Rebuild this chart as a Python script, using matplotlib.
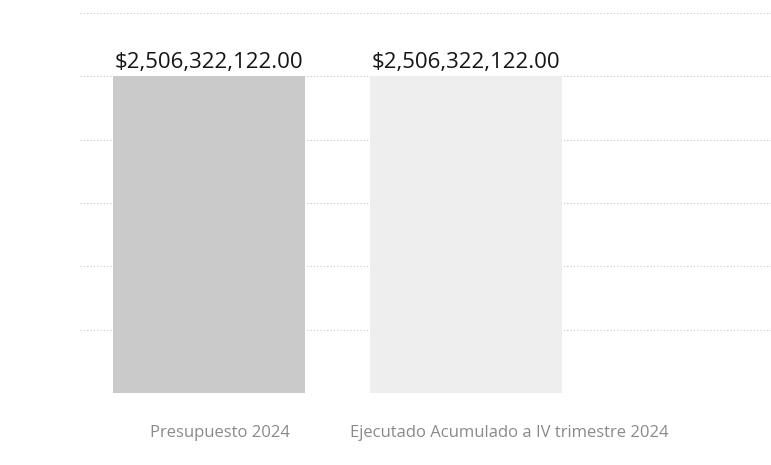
import matplotlib
matplotlib.use("Agg")
import matplotlib.pyplot as plt
import numpy as np

categories = ["Presupuesto 2024", "Ejecutado Acumulado a IV trimestre 2024"]
values = [2506322122.00, 2506322122.00]
value_labels = ["$2,506,322,122.00", "$2,506,322,122.00"]
colors = ["#cacaca", "#eeeeee"]

W, H = 771, 465
fig = plt.figure(figsize=(W/100, H/100), dpi=100)
ax_left, ax_right = 80, 771
ax_top, ax_bottom = 13, 393
ax = fig.add_axes([ax_left/W, 1 - ax_bottom/H, (ax_right-ax_left)/W, (ax_bottom-ax_top)/H])

spacing = 257.0
x = np.arange(len(categories))
bars = ax.bar(x, values, width=0.75, color=colors, zorder=2)
x0 = -(209 - ax_left)/spacing
ax.set_xlim(x0, x0 + (ax_right-ax_left)/spacing)
ax.set_ylim(0, 3.0e9)
ax.set_yticks(np.arange(0, 3.0e9 + 1, 5e8))
ax.yaxis.grid(True, color="#c4c4c4", linestyle=(0, (1, 2)), linewidth=0.8, zorder=0)
ax.tick_params(left=False, bottom=False, labelleft=False, labelbottom=False)
for s in ax.spines.values():
    s.set_visible(False)

for b, lab in zip(bars, value_labels):
    ax.annotate(lab, (b.get_x() + b.get_width()/2, b.get_height()),
                xytext=(0, 2), textcoords="offset points", ha="center", va="bottom",
                fontsize=16, color="#151515", family="Open Sans")

leg_x = [150, 350]
for cx, lab in zip(leg_x, categories):
    fig.text(cx/W, 1 - 433/H, lab, ha="left", va="center", fontsize=12,
             color="#8a8a8a", family="Open Sans")

fig.savefig("out.png", dpi=100)
